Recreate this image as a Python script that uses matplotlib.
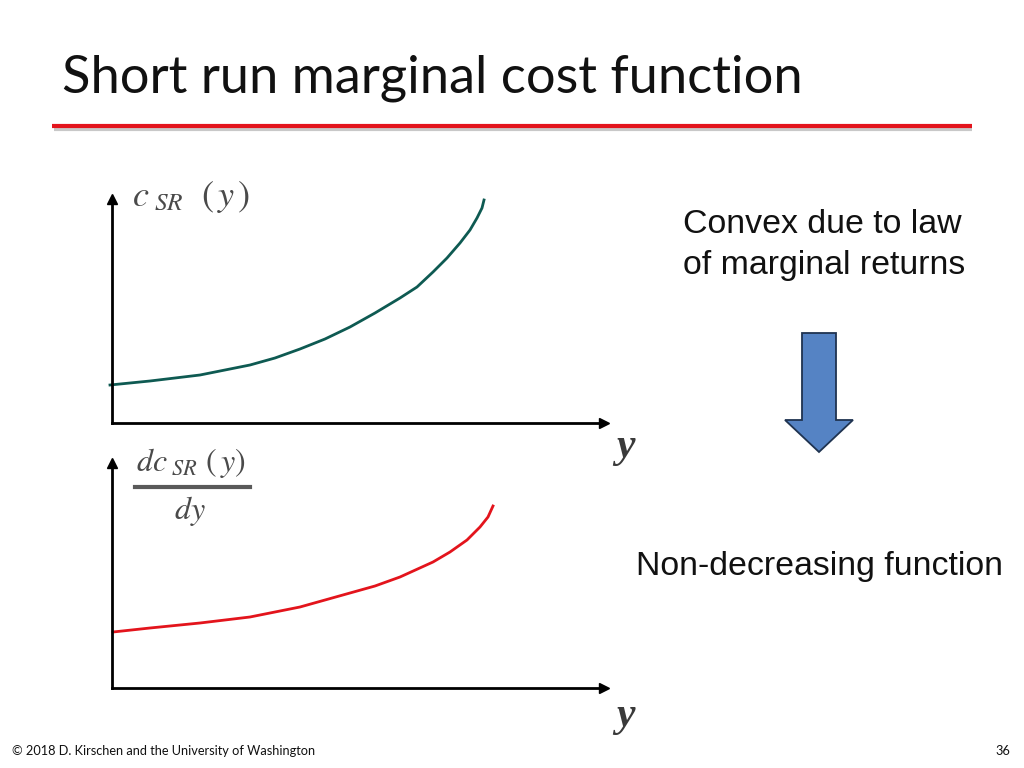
import numpy as np
import matplotlib.pyplot as plt
from matplotlib.patches import Polygon

# curve samples (output y, value), arbitrary units
q_cost = [-2, 38, 88, 138, 163, 188, 213, 238, 263, 288, 305, 321, 335, 348, 358, 365, 370, 372]
cost = [38, 42, 48, 58, 65, 74, 84, 96, 110, 125, 136, 151, 165, 180, 193, 205, 215, 223]

q_mc = [1, 38, 88, 138, 188, 213, 238, 263, 288, 321, 338, 355, 368, 376, 381]
mc = [56, 60, 65, 71, 81, 88, 95, 102, 111, 126, 136, 148, 161, 171, 182]

title = "Short run marginal cost function"
note_top = "Convex due to law\nof marginal returns"
note_bottom = "Non-decreasing function"
footer = "\u00a9 2018 D. Kirschen and the University of Washington"
page_no = "36"

plt.rcParams['mathtext.fontset'] = 'stix'

W, H = 1024, 768
fig = plt.figure(figsize=(W / 100, H / 100), dpi=100)

# background axes in pixel coordinates for the slide decorations
bg = fig.add_axes([0, 0, 1, 1])
bg.set_xlim(0, W)
bg.set_ylim(H, 0)
bg.axis('off')

bg.text(62, 78, title, fontsize=37.7, family='Lato', va='center', ha='left', color='#111111')
bg.plot([54, 972], [129, 129], color='#c8c8c8', lw=3, solid_capstyle='butt')
bg.plot([52, 972], [126, 126], color='#e3141c', lw=3, solid_capstyle='butt')

bg.text(683, 245, note_top, fontsize=24.4, family='Liberation Sans', va='center', ha='left',
        linespacing=1.42, color='#111111')
bg.text(636, 566, note_bottom, fontsize=24.4, family='Liberation Sans', va='center', ha='left',
        color='#111111')

arrow = Polygon([(802, 333), (836, 333), (836, 420), (853, 420), (819, 452),
                 (785, 420), (802, 420)], closed=True, facecolor='#5583c4',
                edgecolor='#1f3350', lw=1.3)
bg.add_patch(arrow)

bg.text(12, 751, footer, fontsize=9.2, family='Lato', va='center', ha='left', color='#111111')
bg.text(1010, 751, page_no, fontsize=9.2, family='Lato', va='center', ha='right', color='#111111')


def graph(origin_x, origin_y, top_y, right_x, q, v, color):
    ax = fig.add_axes([origin_x / W, (H - origin_y) / H,
                       (right_x - origin_x) / W, (origin_y - top_y) / H])
    ax.set_xlim(0, right_x - origin_x)
    ax.set_ylim(0, origin_y - top_y)
    ax.patch.set_alpha(0)
    for s in ['top', 'right']:
        ax.spines[s].set_visible(False)
    for s in ['left', 'bottom']:
        ax.spines[s].set_linewidth(2)
    ax.set_xticks([])
    ax.set_yticks([])
    ax.plot(1, 0, '>k', ms=7, transform=ax.get_yaxis_transform(), clip_on=False)
    ax.plot(0, 1, '^k', ms=7, transform=ax.get_xaxis_transform(), clip_on=False)
    ax.plot(q, v, color=color, lw=2, clip_on=False, solid_joinstyle='round')
    return ax


graph(112, 423, 199, 604, q_cost, cost, '#0e5a52')
graph(112, 688, 463, 604, q_mc, mc, '#e3141c')

label_col = '#4a4a4a'
bg.text(132, 197, r'$c_{\ SR}\ \ (\,y\,)$', fontsize=26, color=label_col, va='center', ha='left')
bg.text(136, 463, r'$dc_{\ SR}\ (\,y)$', fontsize=23, color=label_col, va='center', ha='left')
bg.plot([135, 250], [487, 487], color='#5a5a5a', lw=3)
bg.text(190, 511, r'$dy$', fontsize=23, color=label_col, va='center', ha='center')

for yy in (447, 716):
    bg.text(625, yy, 'y', fontsize=30, family='Liberation Serif', style='italic',
            weight='bold', color='#3a3a3a', va='center', ha='center')

fig.savefig('out.png', dpi=100)
